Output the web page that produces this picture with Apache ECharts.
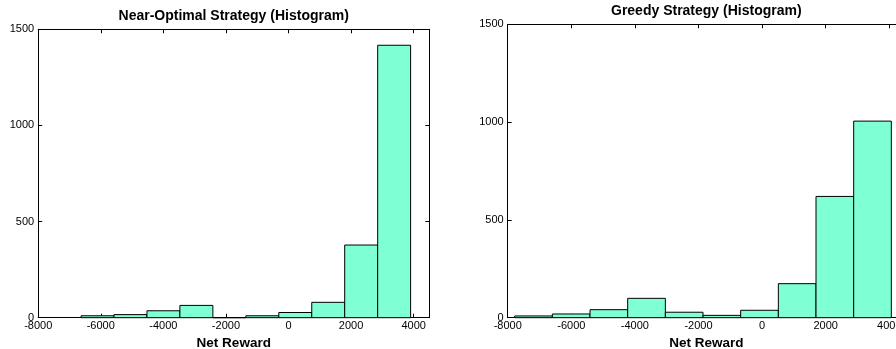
<!DOCTYPE html>
<html>
<head>
<meta charset="utf-8">
<script src="https://cdn.jsdelivr.net/npm/echarts@6/dist/echarts.min.js"></script>
<style>
html,body{margin:0;padding:0;background:#fff;}
#chart{width:896px;height:349px;}
</style>
</head>
<body>
<div id="chart"></div>
<script>
// ---- data ----
const leftTitle = 'Near-Optimal Strategy (Histogram)';
const rightTitle = 'Greedy Strategy (Histogram)';
const xAxisName = 'Net Reward';

// bin edges (11 edges -> 10 bins) and counts
const leftEdges = [-6631, -5578, -4524, -3471, -2417, -1364, -310, 743, 1796, 2850, 3903];
const leftCounts = [10, 16, 36, 64, 0, 10, 27, 80, 378, 1417];

const rightEdges = [-7780, -6596, -5411, -4227, -3042, -1858, -674, 511, 1695, 2880, 4064];
const rightCounts = [9, 19, 41, 99, 28, 12, 38, 174, 620, 1005];

const xTicks = [-8000, -6000, -4000, -2000, 0, 2000, 4000];
const yTicks = [0, 500, 1000, 1500];

// ---- build ----
function binsData(edges, counts) {
  return counts.map((c, i) => [edges[i], edges[i + 1], c]);
}

const FONT = 'Liberation Sans, Arial, Helvetica, sans-serif';
const BAR_FILL = '#7fffd4';

function renderBar(params, api) {
  const p0 = api.coord([api.value(0), api.value(2)]);
  const p1 = api.coord([api.value(1), 0]);
  return {
    type: 'rect',
    shape: { x: p0[0], y: p0[1], width: p1[0] - p0[0], height: p1[1] - p0[1] },
    style: { fill: BAR_FILL, stroke: '#000', lineWidth: 1 }
  };
}

const grids = [
  { left: 38.2, top: 29.3, width: 391.1, height: 288.4, outerBoundsMode: 'none', containLabel: false },
  { left: 507.7, top: 24.3, width: 397.5, height: 293.4, outerBoundsMode: 'none', containLabel: false }
];

const axisLineStyle = { show: true, onZero: false, lineStyle: { color: '#000', width: 1 } };
const tickStyle = { show: true, inside: true, length: 4, lineStyle: { color: '#000', width: 1 } };
const plainNum = v => String(v);

const xMin = xTicks[0], xMax = 4500, xStep = xTicks[1] - xTicks[0];
const yMin = yTicks[0], yMax = yTicks[yTicks.length - 1], yStep = yTicks[1] - yTicks[0];

const xAxes = [], yAxes = [];
grids.forEach((g, gi) => {
  xAxes.push({
    type: 'value', gridIndex: gi, position: 'bottom',
    min: xMin, max: xMax, interval: xStep,
    axisLine: axisLineStyle, axisTick: tickStyle, splitLine: { show: false },
    axisLabel: { color: '#000', fontFamily: FONT, fontSize: 11, margin: 3, showMaxLabel: false, showMinLabel: true, formatter: plainNum },
    name: xAxisName, nameLocation: 'middle', nameGap: 16,
    nameTextStyle: { color: '#000', fontFamily: FONT, fontSize: 13.5, fontWeight: 'bold' }
  });
  xAxes.push({
    type: 'value', gridIndex: gi, position: 'top',
    min: xMin, max: xMax, interval: xStep,
    axisLine: axisLineStyle, axisTick: tickStyle, splitLine: { show: false },
    axisLabel: { show: false }
  });
  yAxes.push({
    type: 'value', gridIndex: gi, position: 'left',
    min: yMin, max: yMax, interval: yStep,
    axisLine: axisLineStyle, axisTick: tickStyle, splitLine: { show: false },
    axisLabel: { color: '#000', fontFamily: FONT, fontSize: 11, margin: 4, formatter: plainNum }
  });
  yAxes.push({
    type: 'value', gridIndex: gi, position: 'right',
    min: yMin, max: yMax, interval: yStep,
    axisLine: axisLineStyle, axisTick: tickStyle, splitLine: { show: false },
    axisLabel: { show: false }
  });
});

const option = {
  animation: false,
  backgroundColor: '#fff',
  grid: grids,
  xAxis: xAxes,
  yAxis: yAxes,
  graphic: [
    { type: 'text', x: 233.7, y: 16, style: { text: leftTitle, textAlign: 'center', textVerticalAlign: 'middle', font: 'bold 14px ' + FONT, fill: '#000' } },
    { type: 'text', x: 706.3, y: 11, style: { text: rightTitle, textAlign: 'center', textVerticalAlign: 'middle', font: 'bold 14px ' + FONT, fill: '#000' } }
  ],
  series: [
    {
      type: 'custom', name: leftTitle, xAxisIndex: 0, yAxisIndex: 0,
      renderItem: renderBar, encode: { x: [0, 1], y: 2 },
      data: binsData(leftEdges, leftCounts), z: 1
    },
    {
      type: 'custom', name: rightTitle, xAxisIndex: 2, yAxisIndex: 2,
      renderItem: renderBar, encode: { x: [0, 1], y: 2 },
      data: binsData(rightEdges, rightCounts), z: 1
    }
  ]
};

const chart = echarts.init(document.getElementById('chart'), null, { renderer: 'canvas' });
chart.setOption(option);
</script>
</body>
</html>
